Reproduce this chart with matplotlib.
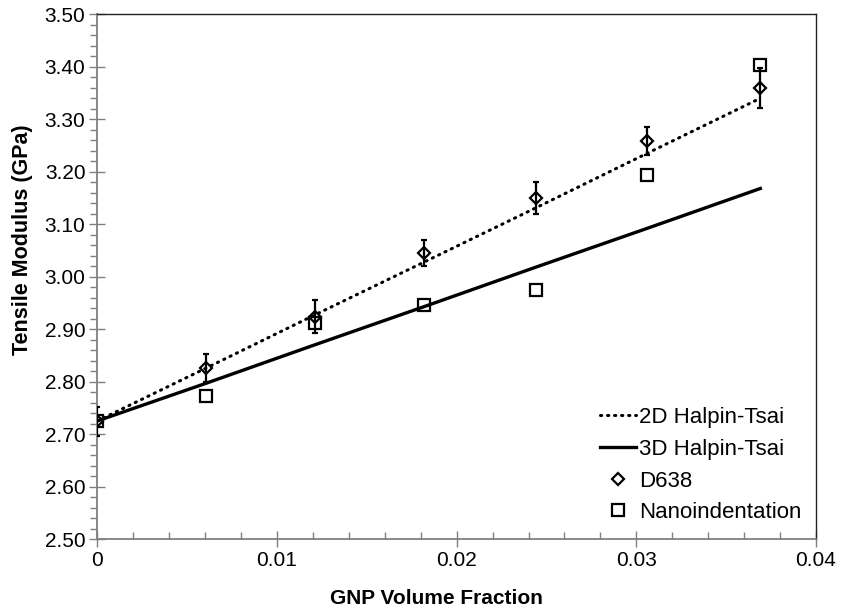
import numpy as np
import matplotlib.pyplot as plt
from matplotlib.ticker import MultipleLocator, FuncFormatter

plt.rcParams['font.family'] = ['Liberation Sans', 'DejaVu Sans']

# GNP volume fraction of the samples
vol_frac = [0.0, 0.00607, 0.0121, 0.0182, 0.0244, 0.0306, 0.0369]

# model predictions (GPa)
ht_2d = [2.725, 2.826, 2.927, 3.028, 3.131, 3.235, 3.340]
ht_3d = [2.725, 2.797, 2.870, 2.943, 3.018, 3.092, 3.168]

# measurements (GPa)
d638 = [2.724, 2.826, 2.924, 3.045, 3.150, 3.259, 3.359]
d638_err = [0.028, 0.027, 0.031, 0.025, 0.030, 0.027, 0.038]
nano = [2.724, 2.773, 2.911, 2.946, 2.974, 3.193, 3.403]

fig = plt.figure(figsize=(8.41, 6.13), dpi=100)
ax = fig.add_axes([0.1157, 0.1207, 0.8546, 0.8560])

ax.plot(vol_frac, ht_2d, color='black', lw=2.2, linestyle=(0, (0.4, 1.9)),
        dash_capstyle='round', label='2D Halpin-Tsai', zorder=2)
ax.plot(vol_frac, ht_3d, color='black', lw=2.4, label='3D Halpin-Tsai', zorder=2)
# error bars drawn apart so the legend shows only the marker
ax.errorbar(vol_frac, d638, yerr=d638_err, fmt='none', ecolor='black',
            elinewidth=1.6, capsize=2.5, capthick=1.6, zorder=3)
ax.plot(vol_frac, d638, 'D', ms=6.5, mfc='none', mec='black', mew=1.6,
        label='D638', zorder=3)
ax.plot(vol_frac, nano, 's', ms=8, mfc='none', mec='black', mew=1.6,
        label='Nanoindentation', zorder=4)

ax.set_xlim(0, 0.04)
ax.set_ylim(2.5, 3.5)
ax.xaxis.set_major_locator(MultipleLocator(0.01))
ax.xaxis.set_minor_locator(MultipleLocator(0.002))
ax.yaxis.set_major_locator(MultipleLocator(0.1))
ax.yaxis.set_minor_locator(MultipleLocator(0.02))
ax.xaxis.set_major_formatter(FuncFormatter(lambda v, p: f'{v:g}'))
ax.yaxis.set_major_formatter(FuncFormatter(lambda v, p: f'{v:.2f}'))

ax.tick_params(which='major', direction='inout', length=11, width=1,
               color='#808080', labelsize=15, pad=3)
ax.tick_params(axis='y', which='minor', direction='out', length=5, width=1, color='#808080')
ax.tick_params(axis='x', which='minor', direction='in', length=5, width=1, color='#808080')

for s in ['left', 'bottom']:
    ax.spines[s].set_color('#808080')
    ax.spines[s].set_linewidth(1.3)
for s in ['top', 'right']:
    ax.spines[s].set_color('#222222')
    ax.spines[s].set_linewidth(1.0)

ax.set_xlabel('GNP Volume Fraction', fontsize=15, fontweight='bold')
ax.set_ylabel('Tensile Modulus (GPa)', fontsize=15.5, fontweight='bold')
ax.xaxis.set_label_coords(0.472, -0.096)
ax.yaxis.set_label_coords(-0.089, 0.57)

ax.legend(loc='lower left', bbox_to_anchor=(0.70, 0.03), frameon=False,
          fontsize=16, handlelength=1.62, handletextpad=0.1, labelspacing=0.48,
          borderpad=0, borderaxespad=0)

fig.savefig('out.png', dpi=100)
